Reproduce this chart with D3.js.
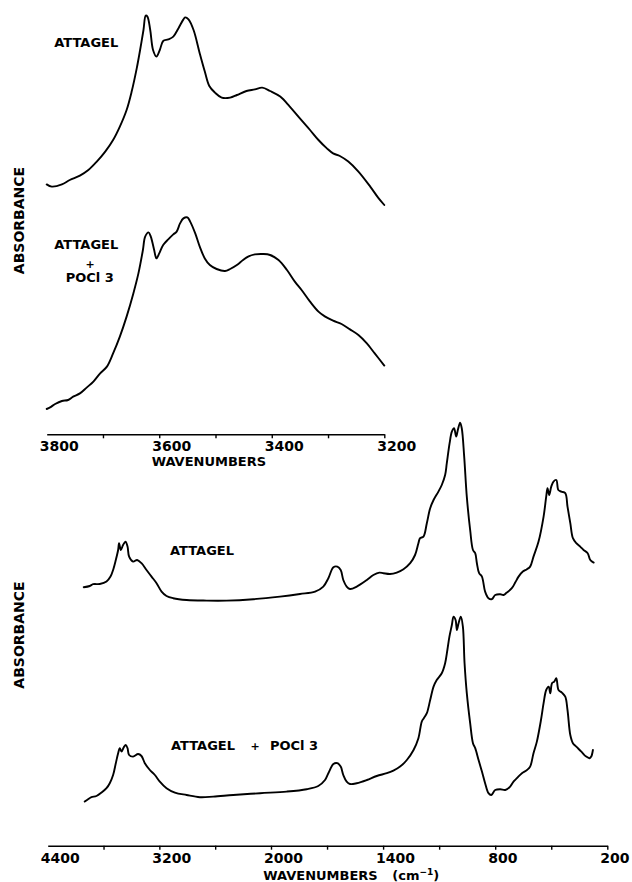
<!DOCTYPE html>
<html>
<head>
<meta charset="utf-8">
<script src="https://cdn.jsdelivr.net/npm/d3@7"></script>
<style>
  body { margin: 0; background: #fff; }
  text { font-family: "DejaVu Sans", sans-serif; font-weight: bold; fill: #000; }
</style>
</head>
<body>
<div id="container"></div>
<script>

// OH stretching region, 3800-3200 cm-1  [wavenumber, absorbance]
var ohAttagel = [
  [3800, 0.153], [3791, 0.142], [3773, 0.153], [3759, 0.175], [3741, 0.197], [3726, 0.225],
  [3711, 0.267], [3696, 0.317], [3682, 0.375], [3670, 0.442], [3658, 0.525], [3649, 0.617],
  [3640, 0.733], [3634, 0.825], [3628, 0.925], [3624, 0.997], [3621, 0.992], [3616, 0.925],
  [3611, 0.825], [3605, 0.792], [3599, 0.825], [3593, 0.87], [3584, 0.878], [3575, 0.892],
  [3566, 0.933], [3557, 0.978], [3554, 0.988], [3548, 0.978], [3539, 0.925], [3528, 0.808],
  [3519, 0.717], [3511, 0.645], [3501, 0.612], [3489, 0.587], [3474, 0.587], [3462, 0.6],
  [3445, 0.62], [3430, 0.628], [3417, 0.637], [3403, 0.62], [3385, 0.592], [3368, 0.542],
  [3350, 0.483], [3332, 0.425], [3317, 0.375], [3302, 0.333], [3291, 0.308], [3279, 0.295],
  [3264, 0.267], [3246, 0.217], [3225, 0.142], [3211, 0.087], [3200, 0.05]
];

var ohAttagelPocl3 = [
  [3800, 0.03], [3794, 0.038], [3785, 0.055], [3773, 0.07], [3762, 0.075], [3753, 0.092],
  [3741, 0.108], [3729, 0.137], [3717, 0.167], [3705, 0.208], [3693, 0.242], [3682, 0.308],
  [3670, 0.392], [3658, 0.492], [3646, 0.608], [3637, 0.708], [3629, 0.825], [3625, 0.892],
  [3619, 0.913], [3615, 0.892], [3609, 0.825], [3605, 0.783], [3600, 0.808], [3593, 0.85],
  [3584, 0.878], [3575, 0.903], [3569, 0.917], [3563, 0.958], [3557, 0.983], [3550, 0.988],
  [3545, 0.967], [3536, 0.908], [3528, 0.842], [3519, 0.783], [3510, 0.75], [3498, 0.73],
  [3483, 0.72], [3474, 0.73], [3462, 0.75], [3451, 0.775], [3442, 0.792], [3430, 0.803],
  [3415, 0.805], [3403, 0.8], [3388, 0.775], [3373, 0.725], [3359, 0.667], [3347, 0.625],
  [3332, 0.567], [3317, 0.517], [3305, 0.492], [3291, 0.472], [3276, 0.455], [3261, 0.428],
  [3246, 0.4], [3231, 0.358], [3217, 0.308], [3200, 0.247]
];

// full range, 4400-200 cm-1
var irAttagel = [
  [4013, 0.114], [3948, 0.12], [3912, 0.129], [3840, 0.13], [3768, 0.142], [3725, 0.167],
  [3697, 0.2], [3668, 0.25], [3643, 0.3], [3633, 0.334], [3614, 0.3], [3590, 0.325],
  [3564, 0.342], [3542, 0.317], [3525, 0.267], [3482, 0.242], [3439, 0.25], [3392, 0.234],
  [3338, 0.2], [3284, 0.167], [3230, 0.134], [3176, 0.092], [3123, 0.07], [3052, 0.059],
  [2907, 0.05], [2692, 0.047], [2477, 0.047], [2190, 0.054], [1952, 0.067], [1845, 0.08],
  [1764, 0.092], [1720, 0.117], [1693, 0.159], [1666, 0.214], [1645, 0.217], [1627, 0.2],
  [1613, 0.15], [1595, 0.117], [1577, 0.105], [1541, 0.117], [1487, 0.15], [1452, 0.175],
  [1420, 0.187], [1398, 0.184], [1363, 0.18], [1327, 0.187], [1291, 0.204], [1255, 0.234],
  [1229, 0.275], [1211, 0.334], [1202, 0.359], [1184, 0.367], [1166, 0.434], [1148, 0.509],
  [1130, 0.55], [1104, 0.592], [1086, 0.625], [1068, 0.675], [1059, 0.734], [1044, 0.834],
  [1032, 0.892], [1020, 0.909], [1009, 0.867], [1000, 0.9], [988, 0.937], [979, 0.909],
  [966, 0.767], [952, 0.567], [934, 0.4], [919, 0.3], [907, 0.284], [898, 0.234],
  [886, 0.184], [871, 0.167], [854, 0.092], [836, 0.059], [818, 0.054], [800, 0.075],
  [773, 0.079], [756, 0.075], [738, 0.087], [711, 0.109], [693, 0.137], [675, 0.167],
  [652, 0.192], [630, 0.204], [613, 0.217], [595, 0.267], [568, 0.342], [541, 0.467],
  [527, 0.567], [520, 0.609], [511, 0.575], [500, 0.617], [488, 0.642], [473, 0.65],
  [462, 0.6], [446, 0.592], [425, 0.584], [413, 0.517], [398, 0.434], [384, 0.359],
  [366, 0.334], [345, 0.317], [327, 0.3], [305, 0.284], [291, 0.25], [273, 0.237]
];

var irAttagelPocl3 = [
  [4002, 0.042], [3966, 0.054], [3930, 0.064], [3876, 0.07], [3822, 0.087], [3768, 0.109],
  [3733, 0.134], [3697, 0.175], [3668, 0.234], [3643, 0.284], [3625, 0.309], [3607, 0.292],
  [3582, 0.314], [3561, 0.325], [3542, 0.309], [3525, 0.275], [3482, 0.267], [3428, 0.28],
  [3392, 0.27], [3356, 0.234], [3302, 0.2], [3248, 0.175], [3195, 0.142], [3123, 0.109],
  [3033, 0.087], [2907, 0.075], [2764, 0.064], [2621, 0.067], [2406, 0.075], [2118, 0.084],
  [1916, 0.092], [1809, 0.104], [1747, 0.12], [1711, 0.15], [1693, 0.184], [1666, 0.23],
  [1645, 0.234], [1627, 0.217], [1613, 0.175], [1595, 0.142], [1577, 0.13], [1541, 0.134],
  [1487, 0.15], [1434, 0.17], [1380, 0.184], [1345, 0.197], [1309, 0.217], [1273, 0.25],
  [1237, 0.3], [1211, 0.359], [1193, 0.442], [1182, 0.459], [1166, 0.484], [1148, 0.55],
  [1130, 0.617], [1113, 0.65], [1086, 0.684], [1068, 0.734], [1056, 0.8], [1045, 0.867],
  [1032, 0.925], [1023, 0.967], [1012, 0.95], [1005, 0.9], [996, 0.934], [984, 0.967],
  [973, 0.917], [964, 0.734], [952, 0.584], [934, 0.434], [919, 0.334], [907, 0.309],
  [889, 0.25], [871, 0.192], [854, 0.134], [836, 0.084], [821, 0.075], [800, 0.1],
  [773, 0.104], [746, 0.1], [720, 0.117], [702, 0.142], [684, 0.159], [657, 0.184],
  [630, 0.2], [613, 0.217], [595, 0.284], [577, 0.342], [555, 0.45], [541, 0.534],
  [527, 0.6], [514, 0.617], [505, 0.584], [496, 0.634], [484, 0.642], [473, 0.659],
  [461, 0.6], [443, 0.587], [425, 0.567], [413, 0.5], [398, 0.375], [384, 0.334],
  [366, 0.317], [339, 0.292], [313, 0.267], [295, 0.259], [286, 0.267], [277, 0.3]
];

// axis ticks and labels
var topTicks = [3800, 3700, 3600, 3500, 3400, 3300, 3200];
var topTickLabels = [3800, 3600, 3400, 3200];
var bottomTicks = [4400, 3800, 3200, 2600, 2000, 1700, 1400, 1100, 800, 500, 200];
var bottomTickLabels = [4400, 3200, 2000, 1400, 800, 200];

var width = 632,
    height = 882;

var svg = d3.select("div#container").append("svg")
    .attr("width", width)
    .attr("height", height);

svg.append("rect")
    .attr("width", width)
    .attr("height", height)
    .attr("fill", "#fff");

var xTop = d3.scaleLinear().domain([3800, 3200]).range([46.7, 384.3]);
// chart paper expands x2 below 2000 cm-1
var xBottom = d3.scaleLinear().domain([4400, 2000, 200]).range([47.7, 271, 607.3]);

// every trace gets its own vertical offset on the paper
var spectra = [
    { data: ohAttagel,      x: xTop,    y: d3.scaleLinear().domain([0, 1]).range([215, 15]) },
    { data: ohAttagelPocl3, x: xTop,    y: d3.scaleLinear().domain([0, 1]).range([415, 215]) },
    { data: irAttagel,      x: xBottom, y: d3.scaleLinear().domain([0, 1]).range([610, 410]) },
    { data: irAttagelPocl3, x: xBottom, y: d3.scaleLinear().domain([0, 1]).range([810, 610]) }
];

spectra.forEach(function (s) {
    var line = d3.line()
        .x(function (d) { return s.x(d[0]); })
        .y(function (d) { return s.y(d[1]); })
        .curve(d3.curveCatmullRom.alpha(0.5));

    svg.append("path")
        .datum(s.data)
        .attr("d", line)
        .attr("fill", "none")
        .attr("stroke", "#000")
        .attr("stroke-width", 1.9)
        .attr("stroke-linejoin", "round")
        .attr("stroke-linecap", "round");
});

function drawAxis(scale, ticks, labels, y) {
    var axis = d3.axisBottom(scale)
        .tickValues(ticks)
        .tickSize(4)
        .tickSizeOuter(0)
        .tickFormat(function (d) { return labels.indexOf(d) >= 0 ? d : ""; });

    var g = svg.append("g")
        .attr("transform", "translate(0," + y + ")")
        .call(axis);

    g.attr("font-family", null).attr("font-size", null);
    g.select(".domain").attr("stroke-width", 1.6);
    g.selectAll(".tick line").attr("stroke-width", 1.4);
    // no tick mark on the left end of the axis
    g.selectAll(".tick line").filter(function (d, i) { return i === 0; }).remove();
    g.selectAll(".tick text")
        .attr("x", -7.5)
        .attr("text-anchor", "start")
        .style("font-size", "14px");
    return g;
}

drawAxis(xTop, topTicks, topTickLabels, 434.3);
drawAxis(xBottom, bottomTicks, bottomTickLabels, 845.7);

// axis titles
svg.append("text")
    .attr("x", 151.7)
    .attr("y", 465.5)
    .style("font-size", "13px")
    .text("WAVENUMBERS");

var bt = svg.append("text")
    .attr("x", 263.3)
    .attr("y", 880)
    .style("font-size", "13px")
    .style("word-spacing", "10px");
bt.append("tspan").text("WAVENUMBERS (cm");
bt.append("tspan").attr("dy", -5).style("font-size", "9px").text("−1");
bt.append("tspan").attr("dy", 5).text(")");

[220.5, 635].forEach(function (cy) {
    svg.append("text")
        .attr("transform", "translate(23.5," + cy + ") rotate(-90)")
        .attr("text-anchor", "middle")
        .style("font-size", "14px")
        .text("ABSORBANCE");
});

// trace labels
svg.append("text").attr("x", 54.3).attr("y", 46.7).style("font-size", "13px").text("ATTAGEL");
svg.append("text").attr("x", 54.3).attr("y", 249.3).style("font-size", "13px").text("ATTAGEL");
svg.append("text").attr("x", 90).attr("y", 267.5).attr("text-anchor", "middle").style("font-size", "11px").text("+");
svg.append("text").attr("x", 65.7).attr("y", 281.7).style("font-size", "13px").text("POCl 3");

svg.append("text").attr("x", 170).attr("y", 555).style("font-size", "13px").text("ATTAGEL");
var lab = svg.append("text").attr("y", 750).style("font-size", "13px");
lab.append("tspan").attr("x", 171).text("ATTAGEL");
lab.append("tspan").attr("x", 250.5).style("font-size", "11px").text("+");
lab.append("tspan").attr("x", 270).text("POCl 3");

</script>
</body>
</html>
